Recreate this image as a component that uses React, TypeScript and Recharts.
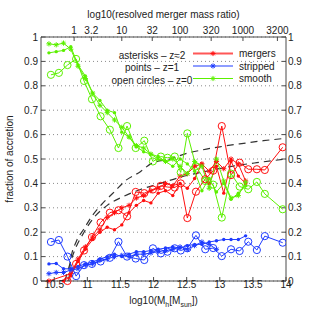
import React from "react";
import { ComposedChart, Line, XAxis, YAxis, CartesianGrid } from "recharts";

// halo mass bins, log10(Mh)
const massHiZ = [10.42, 10.53, 10.64, 10.75, 10.86, 10.97, 11.08, 11.19, 11.3, 11.41, 11.52, 11.63, 11.74, 11.85, 11.96, 12.07, 12.18, 12.29, 12.4, 12.51, 12.62, 12.73, 12.84, 12.95, 13.06, 13.17, 13.28, 13.39];
const massZ0 = [10.45, 10.57, 10.7, 10.83, 10.95, 11.07, 11.2, 11.34, 11.47, 11.6, 11.73, 11.86, 11.99, 12.11, 12.21, 12.32, 12.41, 12.51, 12.64, 12.78, 12.9, 13.03, 13.17, 13.3, 13.43, 13.56, 13.68, 13.95];

// mergers
const mergersZ2 = [0, null, null, 0.03, 0.09, 0.14, 0.18, 0.21, 0.26, 0.28, 0.3, 0.31, 0.34, 0.35, 0.37, 0.38, 0.4, 0.39, 0.43, 0.44, 0.47, 0.48, 0.45, 0.49, 0.46, 0.5, 0.48, 0.41];
const mergersZ1 = [null, null, 0, 0.02, 0.08, 0.13, 0.17, 0.2, 0.22, 0.21, 0.23, 0.28, 0.31, 0.33, 0.32, 0.36, 0.37, 0.35, 0.4, 0.38, 0.42, 0.48, 0.4, 0.47, 0.36, 0.49, 0.43, 0.4];
const mergersZ0 = [null, null, 0, 0.07, 0.125, 0.18, 0.24, 0.28, 0.29, 0.265, 0.365, 0.36, 0.375, 0.39, 0.385, 0.383, 0.4, 0.258, 0.366, 0.417, 0.452, 0.635, 0.434, 0.485, 0.458, 0.458, 0.455, 0.548];

// stripped
const strippedZ2 = [0.03, 0.035, 0.035, 0.045, 0.05, 0.065, 0.07, 0.085, 0.09, 0.1, 0.105, 0.1, 0.11, 0.11, 0.115, 0.12, 0.125, 0.13, 0.14, 0.13, 0.145, 0.16, 0.15, 0.13, null, null, null, null];
const strippedZ1 = [0.07, 0.072, 0.05, 0.05, 0.06, 0.07, 0.078, 0.09, 0.1, 0.11, 0.1, 0.11, 0.12, 0.12, 0.125, 0.13, 0.135, 0.14, 0.135, 0.145, 0.15, 0.15, 0.16, 0.165, 0.17, 0.17, 0.17, 0.185];
const strippedZ0 = [0.16, 0.168, 0.1, 0.02, 0.065, 0.07, 0.08, 0.095, 0.161, 0.1, 0.092, 0.086, 0.134, 0.113, 0.12, 0.134, 0.125, 0.134, 0.187, 0.13, 0.135, 0.102, 0.13, 0.123, 0.161, 0.127, 0.184, 0.157];

// smooth
const smoothZ2 = [0.972, 0.968, 0.975, 0.95, 0.88, 0.83, 0.77, 0.72, 0.69, 0.66, 0.63, 0.59, 0.555, 0.545, 0.52, 0.5, 0.49, 0.5, 0.47, 0.44, 0.49, 0.47, 0.38, 0.5, 0.41, 0.34, 0.35, 0.405];
const smoothZ1 = [0.935, 0.94, 0.945, 0.96, 0.885, 0.84, 0.77, 0.74, 0.7, 0.69, 0.61, 0.59, 0.55, 0.53, 0.52, 0.51, 0.49, 0.47, 0.5, 0.48, 0.45, 0.37, 0.42, 0.365, 0.4, 0.335, 0.36, 0.39];
const smoothZ0 = [0.845, 0.853, 0.885, 0.91, 0.82, 0.745, 0.675, 0.62, 0.545, 0.635, 0.545, 0.575, 0.49, 0.51, 0.505, 0.51, 0.445, 0.605, 0.47, 0.41, 0.395, 0.26, 0.44, 0.387, 0.376, 0.406, 0.357, 0.294];

// dashed reference curves
const upperCurveMass = [10.72, 10.75, 10.83, 10.94, 11.08, 11.23, 11.41, 11.57, 11.8, 11.97, 12.25, 12.5, 12.73, 13.0, 13.3, 13.66, 14.0];
const upperCurve = [0, 0.09, 0.16, 0.21, 0.27, 0.318, 0.366, 0.41, 0.448, 0.482, 0.5, 0.523, 0.537, 0.55, 0.562, 0.575, 0.585];
const lowerCurveMass = [10.66, 10.8, 10.95, 11.1, 11.3, 11.54, 11.8, 12.1, 12.4, 12.75, 13.16, 13.56, 14.0];
const lowerCurve = [0, 0.12, 0.2, 0.26, 0.31, 0.346, 0.375, 0.4, 0.425, 0.447, 0.469, 0.485, 0.5];

const massTicks = [10.5, 11, 11.5, 12, 12.5, 13, 13.5, 14];
const fracTicks = [0, 0.1, 0.2, 0.3, 0.4, 0.5, 0.6, 0.7, 0.8, 0.9, 1];
const ratioLabels = ["1", "3.2", "10", "32", "100", "320", "1000", "3200"];
const ratioTickMass = [10.8, 11.06, 11.52, 11.98, 12.4, 12.87, 13.35, 13.87];

const legendNames = ["mergers", "stripped", "smooth"];
const noteLines = ["asterisks \u2013 z\u22482", "points \u2013 z=1", "open circles \u2013 z=0"];

const RED = "#ff1010";
const BLUE = "#1f3cff";
const GREEN = "#5cf000";
const font = "'Liberation Sans', Arial, Helvetica, sans-serif";
const axisColor = "#4a4a4a";
const textColor = "#222";
const tickStyle = { fontSize: 10, fill: textColor, fontFamily: font };

const rows = (xs: number[], ys: (number | null)[]) => xs.map((x, i) => ({ x, y: ys[i] ?? null }));

const asteriskDot = (color: string) => (p: any) => {
  const { cx, cy, index } = p;
  if (cx == null || cy == null || p.value == null) return <g key={index} />;
  const r = 2.6;
  const d = 1.8;
  return (
    <g key={index} stroke={color} strokeWidth={1}>
      <line x1={cx - r} y1={cy} x2={cx + r} y2={cy} />
      <line x1={cx} y1={cy - r} x2={cx} y2={cy + r} />
      <line x1={cx - d} y1={cy - d} x2={cx + d} y2={cy + d} />
      <line x1={cx - d} y1={cy + d} x2={cx + d} y2={cy - d} />
    </g>
  );
};

const pointDot = (color: string) => (p: any) => {
  const { cx, cy, index } = p;
  if (cx == null || cy == null || p.value == null) return <g key={index} />;
  return <circle key={index} cx={cx} cy={cy} r={1.7} fill={color} stroke="none" />;
};

const circleDot = (color: string) => (p: any) => {
  const { cx, cy, index } = p;
  if (cx == null || cy == null || p.value == null) return <g key={index} />;
  return <circle key={index} cx={cx} cy={cy} r={3.6} fill="none" stroke={color} strokeWidth={1} />;
};

const series = [
  { key: "mz2", data: rows(massHiZ, mergersZ2), color: RED, dot: asteriskDot(RED) },
  { key: "mz1", data: rows(massHiZ, mergersZ1), color: RED, dot: pointDot(RED) },
  { key: "mz0", data: rows(massZ0, mergersZ0), color: RED, dot: circleDot(RED) },
  { key: "sz2", data: rows(massHiZ, strippedZ2), color: BLUE, dot: asteriskDot(BLUE) },
  { key: "sz1", data: rows(massHiZ, strippedZ1), color: BLUE, dot: pointDot(BLUE) },
  { key: "sz0", data: rows(massZ0, strippedZ0), color: BLUE, dot: circleDot(BLUE) },
  { key: "gz2", data: rows(massHiZ, smoothZ2), color: GREEN, dot: asteriskDot(GREEN) },
  { key: "gz1", data: rows(massHiZ, smoothZ1), color: GREEN, dot: pointDot(GREEN) },
  { key: "gz0", data: rows(massZ0, smoothZ0), color: GREEN, dot: circleDot(GREEN) },
];

const BottomTitle = (props: any) => {
  const vb = props.viewBox;
  return (
    <text x={vb.x + vb.width / 2} y={304} textAnchor="middle" fontSize={10} fill={textColor} fontFamily={font}>
      log10(M<tspan fontSize={7} dy={3}>h</tspan>
      <tspan dy={-3}>[M</tspan>
      <tspan fontSize={7} dy={3}>sun</tspan>
      <tspan dy={-3}>])</tspan>
    </text>
  );
};

const TopTitle = (props: any) => {
  const vb = props.viewBox;
  return (
    <text x={vb.x + vb.width / 2} y={17.5} textAnchor="middle" fontSize={10} fill={textColor} fontFamily={font}>
      log10(resolved merger mass ratio)
    </text>
  );
};

const LeftTitle = (props: any) => {
  const vb = props.viewBox;
  const cy = vb.y + vb.height / 2;
  return (
    <text x={13} y={cy} transform={`rotate(-90 13 ${cy})`} textAnchor="middle" fontSize={10} fill={textColor} fontFamily={font}>
      fraction of accretion
    </text>
  );
};

export default function App() {
  const colors = [RED, BLUE, GREEN];
  return (
    <div style={{ position: "absolute", left: 0, top: 0, width: 316, height: 317, background: "#fff", fontFamily: font }}>
      <ComposedChart width={316} height={317} margin={{ top: 0, right: 0, bottom: 0, left: 0 }}>
        <CartesianGrid xAxisId="bottom" yAxisId="left" vertical={false} stroke="#8a8a8a" strokeDasharray="1 3" />
        <XAxis
          xAxisId="bottom"
          dataKey="x"
          type="number"
          domain={[10.3, 14]}
          allowDataOverflow
          ticks={massTicks}
          interval={0}
          height={36}
          tick={tickStyle}
          tickSize={-4}
          tickMargin={4}
          stroke={axisColor}
          label={{ content: BottomTitle }}
        />
        <XAxis
          xAxisId="top"
          orientation="top"
          dataKey="x"
          type="number"
          domain={[10.3, 14]}
          allowDataOverflow
          ticks={ratioTickMass}
          interval={0}
          tickFormatter={(_v: number, i: number) => ratioLabels[i]}
          height={37}
          tick={tickStyle}
          tickSize={-4}
          tickMargin={7}
          stroke={axisColor}
          label={{ content: TopTitle }}
        />
        <YAxis
          yAxisId="left"
          type="number"
          domain={[0, 1]}
          ticks={fracTicks}
          interval={0}
          width={41}
          tick={tickStyle}
          tickSize={-4}
          tickMargin={7}
          stroke={axisColor}
          label={{ content: LeftTitle }}
        />
        <YAxis
          yAxisId="right"
          orientation="right"
          type="number"
          domain={[0, 1]}
          ticks={fracTicks}
          interval={0}
          width={30}
          tick={tickStyle}
          tickSize={-4}
          tickMargin={6}
          stroke={axisColor}
        />
        <Line
          xAxisId="bottom"
          yAxisId="left"
          data={rows(upperCurveMass, upperCurve)}
          dataKey="y"
          type="monotone"
          stroke="#333"
          strokeWidth={1.2}
          strokeDasharray="7 5"
          dot={false}
          isAnimationActive={false}
        />
        <Line
          xAxisId="bottom"
          yAxisId="left"
          data={rows(lowerCurveMass, lowerCurve)}
          dataKey="y"
          type="monotone"
          stroke="#333"
          strokeWidth={1.2}
          strokeDasharray="7 5"
          dot={false}
          isAnimationActive={false}
        />
        {/* keeps the top and right axes attached to a series */}
        <Line xAxisId="top" yAxisId="right" data={rows(lowerCurveMass, lowerCurve)} dataKey="y" stroke="none" dot={false} activeDot={false} isAnimationActive={false} />
        {series.map((s) => (
          <Line
            key={s.key}
            xAxisId="bottom"
            yAxisId="left"
            data={s.data}
            dataKey="y"
            type="linear"
            stroke={s.color}
            strokeWidth={1}
            connectNulls
            dot={s.dot}
            activeDot={false}
            isAnimationActive={false}
          />
        ))}
      </ComposedChart>
      <svg width={316} height={317} style={{ position: "absolute", left: 0, top: 0, pointerEvents: "none" }}>
        {noteLines.map((t, i) => (
          <text key={t} x={152} y={58.5 + i * 12.7} textAnchor="middle" fontSize={10} fill={textColor} fontFamily={font}>
            {t}
          </text>
        ))}
        {legendNames.map((name, i) => {
          const y = 53.5 + i * 12.5;
          const c = colors[i];
          return (
            <g key={name}>
              <line x1={193} y1={y} x2={233} y2={y} stroke={c} strokeWidth={i === 0 ? 1.8 : 1.1} strokeOpacity={i === 0 ? 0.7 : 1} />
              {asteriskDot(c)({ cx: 213, cy: y, index: 0, value: 1 })}
              <text x={239} y={y + 3.5} fontSize={10} fill={textColor} fontFamily={font}>
                {name}
              </text>
            </g>
          );
        })}
      </svg>
    </div>
  );
}
